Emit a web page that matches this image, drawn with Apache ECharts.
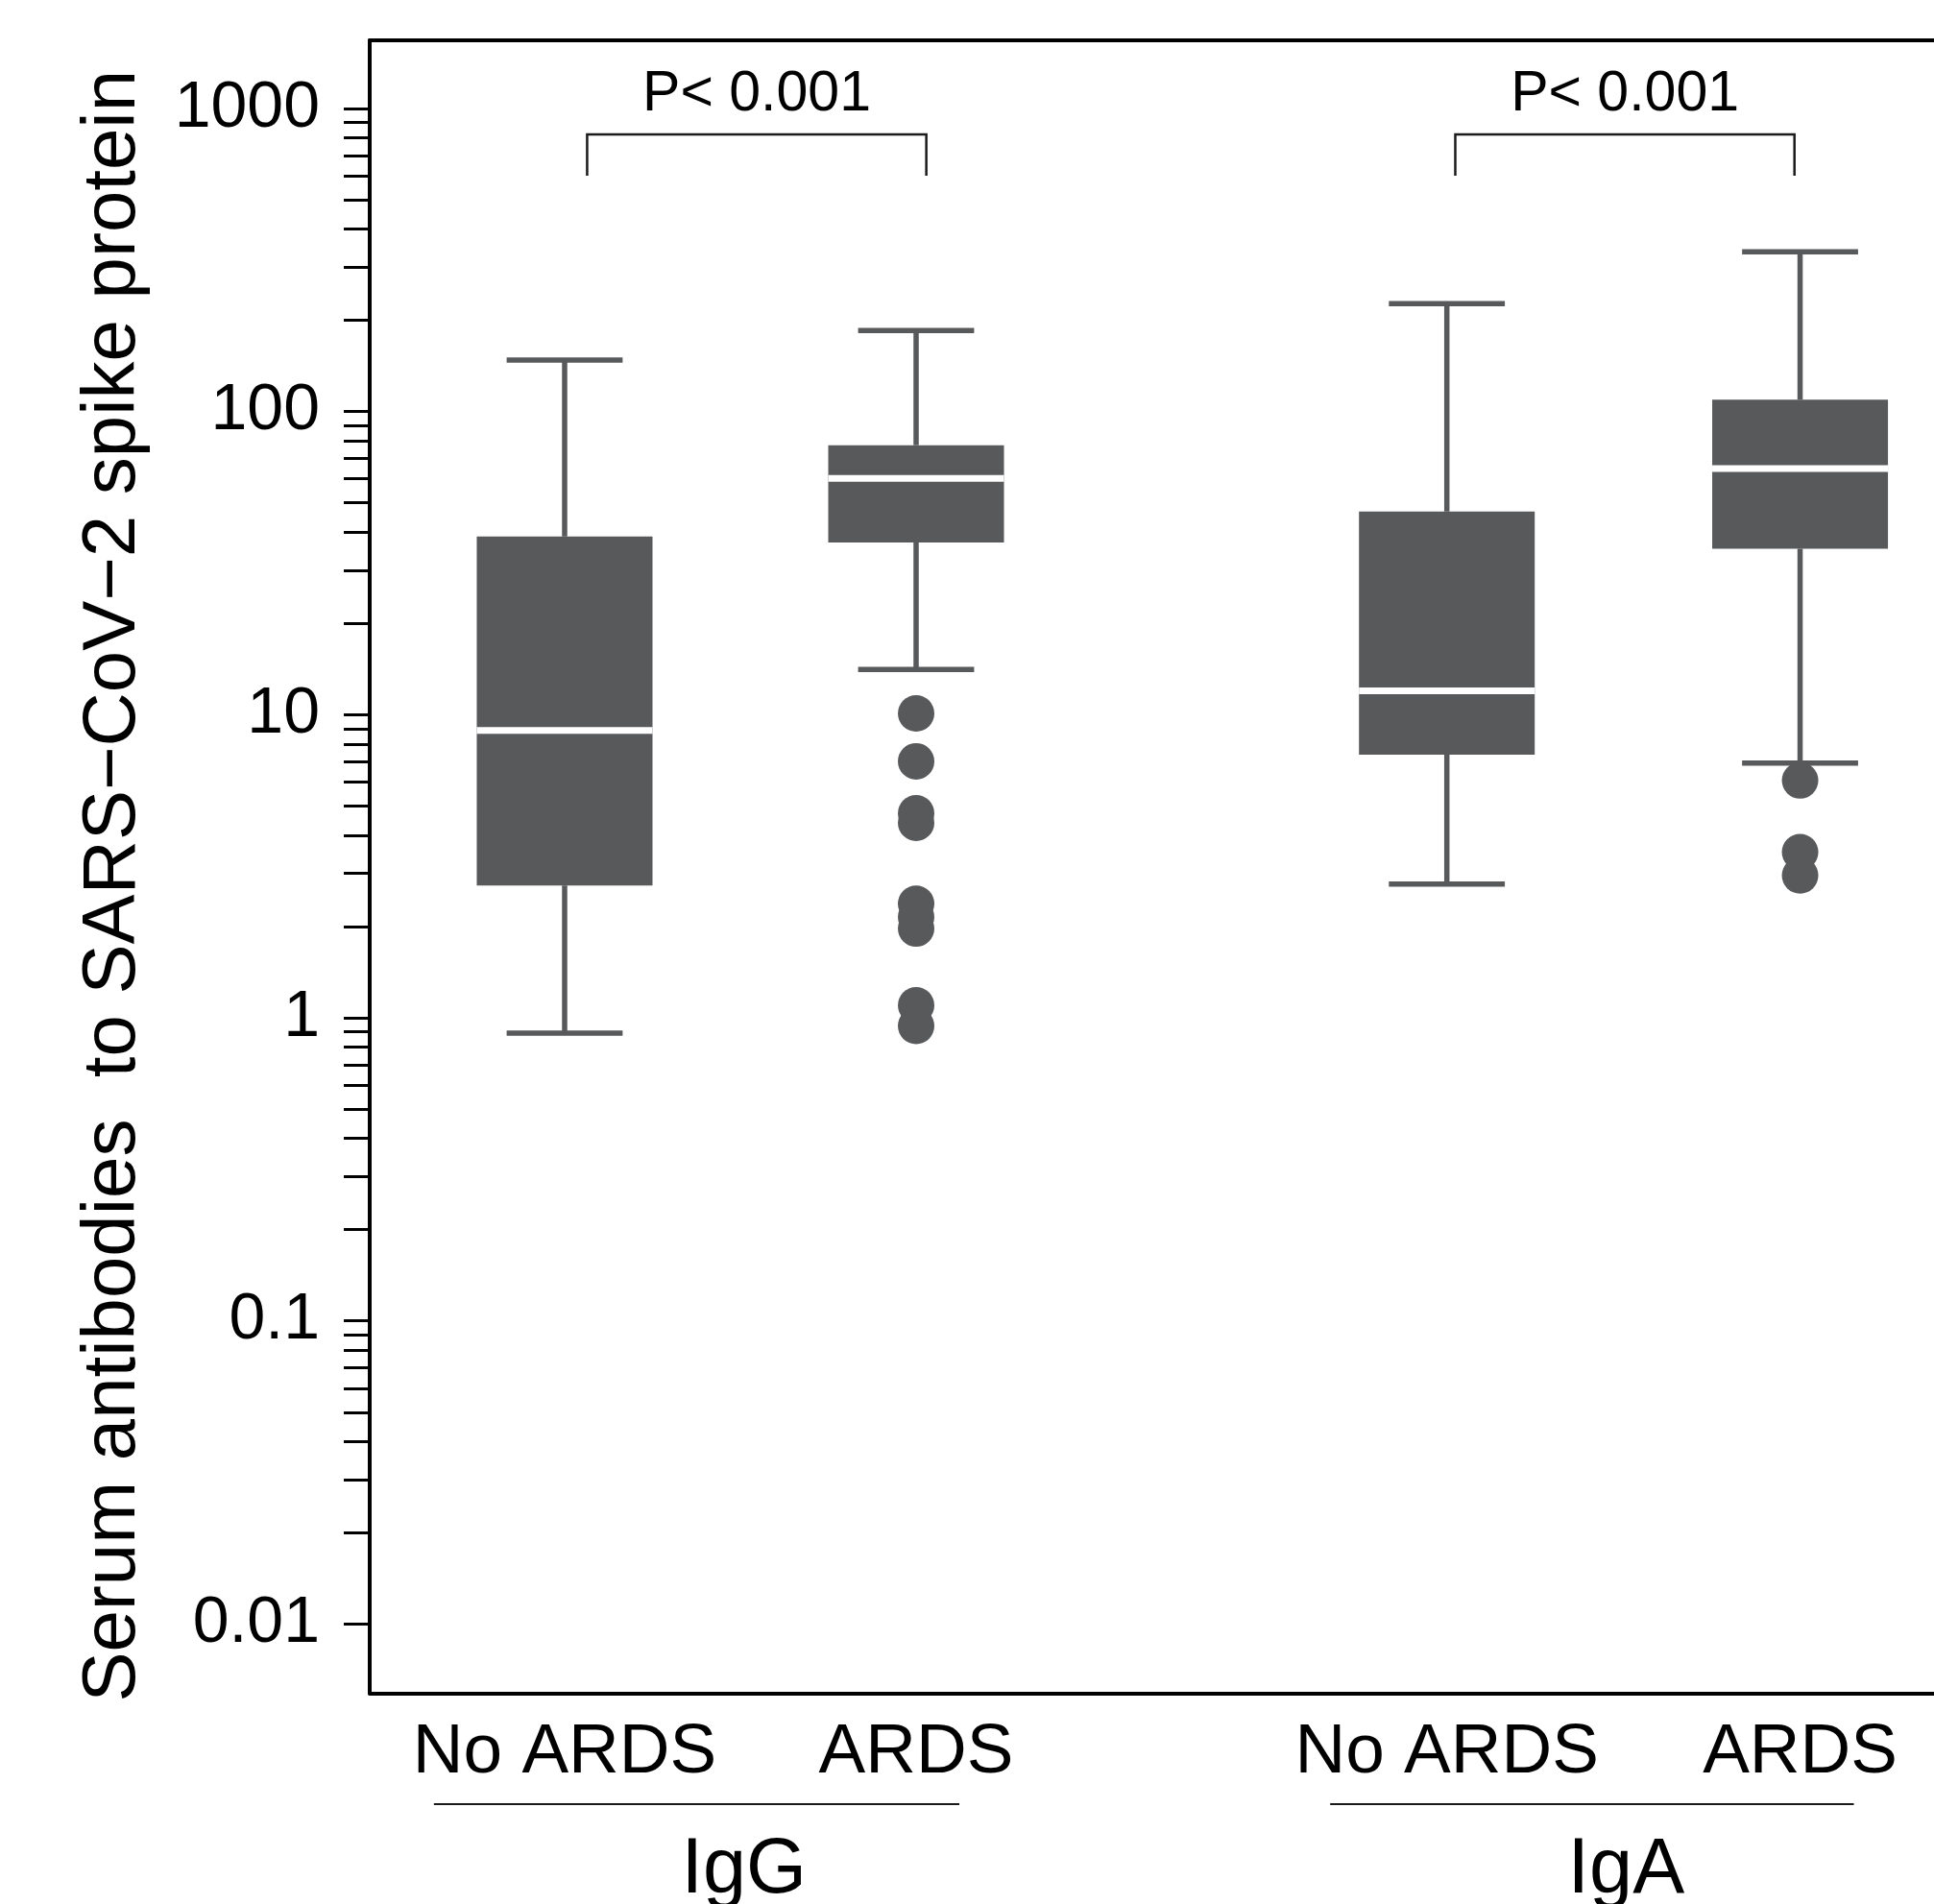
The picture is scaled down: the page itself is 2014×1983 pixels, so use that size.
<!DOCTYPE html>
<html><head><meta charset="utf-8">
<script src="https://cdn.jsdelivr.net/npm/echarts@6/dist/echarts.min.js"></script>
<style>html,body{margin:0;padding:0;background:#fff}#c{width:2014px;height:1983px}</style>
</head><body><div id="c"></div>
<script>
// ---- data ----
const categories = ['No ARDS', 'ARDS', 'No ARDS', 'ARDS'];
const xPositions = [1, 2, 3.51, 4.515];
const whiskerLow  = [0.89, 14.1, 2.76, 6.93];
const q1          = [2.73, 37.0, 7.38, 35.3];
const median      = [8.87, 60.2, 12.0, 64.9];
const q3          = [38.7, 77.5, 46.8, 109.6];
const whiskerHigh = [148, 185, 227, 337];
const outliersIgGARDS = [10.1, 7.02, 4.73, 4.40, 2.38, 2.15, 1.97, 1.10, 0.94];
const outliersIgAARDS = [6.07, 3.52, 2.95];
const groupNames = ['IgG', 'IgA'];
const groupLineStart = [0.628, 3.178];
const groupLineEnd   = [2.123, 4.668];
const groupLabelX    = [1.51, 4.02];
const pTexts = ['P< 0.001', 'P< 0.001'];
const bracketStart = [1.064, 3.534];
const bracketEnd   = [2.029, 4.499];
const bracketTop    = [821, 821];
const bracketBottom = [600, 600];
const yLabelValues = [0.01, 0.1, 1, 10, 100, 1000];
const yTickValues = [];
[0.01, 0.1, 1, 10, 100].forEach(d => { for (let k = 1; k < 10; k++) yTickValues.push(+(d * k).toPrecision(3)); });
yTickValues.push(1000);
const yTitle = 'Serum antibodies  to SARS\u2212CoV\u22122 spike protein';

// ---- chart ----
const XMIN = 0.4454, XMAX = 4.896, YMIN = 0.00591, YMAX = 1679;
const GRAY = '#58595b';
const FONT = 'Liberation Sans';
const chart = echarts.init(document.getElementById('c'), null, {renderer: 'canvas', width: 2014, height: 1983});

function nearestIdx(v) {
  let b = 0;
  xPositions.forEach((p, i) => { if (Math.abs(p - v) < Math.abs(xPositions[b] - v)) b = i; });
  return b;
}

const option = {
  backgroundColor: '#fff',
  animation: false,
  grid: {left: 385, top: 42, right: 0, bottom: 219.5, show: false},
  xAxis: [{
    type: 'value', min: XMIN, max: XMAX,
    axisLine: {show: true, onZero: false, lineStyle: {color: '#000', width: 4}},
    axisTick: {show: false},
    splitLine: {show: false},
    axisLabel: {
      customValues: xPositions,
      formatter: v => categories[nearestIdx(v)],
      margin: 26, fontSize: 73, fontFamily: FONT, color: '#000'
    }
  }, {
    type: 'value', position: 'top', min: XMIN, max: XMAX,
    axisLine: {show: true, onZero: false, lineStyle: {color: '#000', width: 4}},
    axisTick: {show: false}, axisLabel: {show: false}, splitLine: {show: false}
  }],
  yAxis: {
    type: 'log', logBase: 10, min: YMIN, max: YMAX,
    axisLine: {show: true, lineStyle: {color: '#000', width: 4}},
    axisTick: {show: true, customValues: yTickValues, length: 27, lineStyle: {color: '#000', width: 3}},
    splitLine: {show: false},
    minorTick: {show: false},
    axisLabel: {
      customValues: yLabelValues,
      formatter: v => String(+(+v).toPrecision(3)),
      margin: 52, fontSize: 68, fontFamily: FONT, color: '#000'
    },
    name: yTitle, nameLocation: 'middle', nameGap: 228,
    nameTextStyle: {fontSize: 78, fontFamily: FONT, color: '#000', padding: [0, 40, 0, 0]}
  },
  series: [
    {
      type: 'custom', clip: false, z: 3,
      data: xPositions.map((x, i) => [x, whiskerLow[i], q1[i], median[i], q3[i], whiskerHigh[i]]),
      encode: {x: 0, y: [1, 2, 3, 4, 5]},
      renderItem: (params, api) => {
        const x = api.value(0);
        const lo = api.coord([x, api.value(1)]);
        const a = api.coord([x - 0.25, api.value(2)]);
        const m = api.coord([x, api.value(3)]);
        const b = api.coord([x + 0.25, api.value(4)]);
        const hi = api.coord([x, api.value(5)]);
        const capL = api.coord([x - 0.165, 1])[0], capR = api.coord([x + 0.165, 1])[0];
        const ls = {stroke: GRAY, lineWidth: 5.5};
        return {type: 'group', children: [
          {type: 'line', shape: {x1: lo[0], y1: lo[1], x2: lo[0], y2: a[1]}, style: ls},
          {type: 'line', shape: {x1: hi[0], y1: hi[1], x2: hi[0], y2: b[1]}, style: ls},
          {type: 'line', shape: {x1: capL, y1: lo[1], x2: capR, y2: lo[1]}, style: ls},
          {type: 'line', shape: {x1: capL, y1: hi[1], x2: capR, y2: hi[1]}, style: ls},
          {type: 'rect', shape: {x: a[0], y: b[1], width: b[0] - a[0], height: a[1] - b[1]}, style: {fill: GRAY}},
          {type: 'line', shape: {x1: a[0], y1: m[1], x2: b[0], y2: m[1]}, style: {stroke: '#fff', lineWidth: 7}}
        ]};
      }
    },
    {
      type: 'scatter', symbol: 'circle', symbolSize: 38, z: 4,
      itemStyle: {color: GRAY, opacity: 1},
      data: outliersIgGARDS.map(v => [xPositions[1], v]).concat(outliersIgAARDS.map(v => [xPositions[3], v]))
    },
    {
      type: 'custom', clip: false, z: 5,
      data: bracketStart.map((s, i) => [s, bracketEnd[i], bracketTop[i], bracketBottom[i], i]),
      encode: {x: [0, 1], y: [2, 3]},
      renderItem: (params, api) => {
        const p1 = api.coord([api.value(0), api.value(2)]);
        const p2 = api.coord([api.value(1), api.value(2)]);
        const yb = api.coord([api.value(0), api.value(3)])[1];
        const st = {stroke: '#1a1a1a', lineWidth: 2.5, fill: null};
        return {type: 'group', children: [
          {type: 'polyline', shape: {points: [[p1[0], yb], [p1[0], p1[1]], [p2[0], p2[1]], [p2[0], yb]]}, style: st},
          {type: 'text', x: (p1[0] + p2[0]) / 2, y: p1[1] - 41,
           style: {text: pTexts[api.value(4)], fill: '#000', font: '59px "' + FONT + '"', align: 'center', verticalAlign: 'middle'}}
        ]};
      }
    },
    {
      type: 'custom', clip: false, z: 5,
      data: groupNames.map((g, i) => [groupLineStart[i], groupLineEnd[i], groupLabelX[i], i]),
      encode: {x: [0, 1, 2]},
      renderItem: (params, api) => {
        const base = api.coord([api.value(0), YMIN])[1];
        const x1 = api.coord([api.value(0), 1])[0];
        const x2 = api.coord([api.value(1), 1])[0];
        const xt = api.coord([api.value(2), 1])[0];
        return {type: 'group', children: [
          {type: 'line', shape: {x1: x1, y1: base + 115.5, x2: x2, y2: base + 115.5}, style: {stroke: '#1a1a1a', lineWidth: 2}},
          {type: 'text', x: xt, y: base + 185,
           style: {text: groupNames[api.value(3)], fill: '#000', font: '81px "' + FONT + '"', align: 'center', verticalAlign: 'middle'}}
        ]};
      }
    }
  ]
};
chart.setOption(option);
</script>
</body></html>
